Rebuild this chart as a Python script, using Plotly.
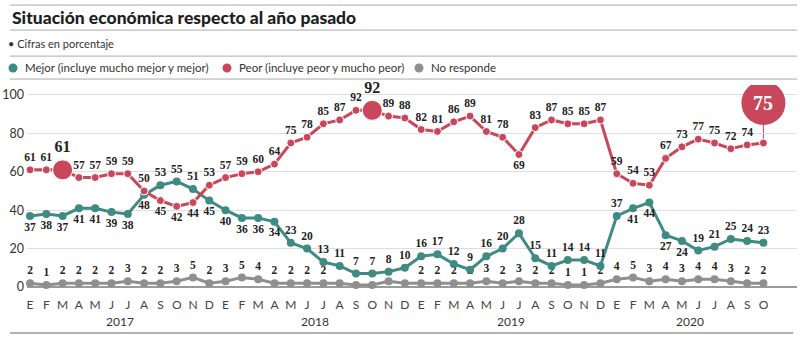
import plotly.graph_objects as go

# Monthly survey: perception of the economy compared with the previous year
month_letters = ["E", "F", "M", "A", "M", "J", "J", "A", "S", "O", "N", "D"]
years = ["2017", "2018", "2019", "2020"]
months_per_year = [12, 12, 12, 10]

mejor = [37, 38, 37, 41, 41, 39, 38, 48, 53, 55, 51, 45,
         40, 36, 36, 34, 23, 20, 13, 11, 7, 7, 8, 10,
         16, 17, 12, 9, 16, 20, 28, 15, 11, 14, 14, 11,
         37, 41, 44, 27, 24, 19, 21, 25, 24, 23]
peor = [61, 61, 61, 57, 57, 59, 59, 50, 45, 42, 44, 53,
        57, 59, 60, 64, 75, 78, 85, 87, 92, 92, 89, 88,
        82, 81, 86, 89, 81, 78, 69, 83, 87, 85, 85, 87,
        59, 54, 53, 67, 73, 77, 75, 72, 74, 75]
no_responde = [2, 1, 2, 2, 2, 2, 3, 2, 2, 3, 5, 2,
               3, 5, 4, 2, 2, 2, 2, 2, 1, 1, 3, 2,
               2, 2, 2, 2, 3, 2, 3, 2, 2, 1, 1, 2,
               4, 5, 3, 4, 3, 4, 4, 3, 2, 2]

series_names = ["Mejor (incluye mucho mejor y mejor)",
                "Peor (incluye peor y mucho peor)",
                "No responde"]

TEAL = "#3f8a83"
RED = "#c8475b"
GRAY = "#8f8f8f"
LABEL_FONT = "Liberation Serif"
SANS = "Lato"

tick_text = []
for n in months_per_year:
    tick_text += month_letters[:n]
x = list(range(len(tick_text)))
last = len(x) - 1

# highlighted points on the "Peor" series
peor_big = {2, 21}

# label placement per point
mejor_below = set(range(0, 8)) | {11, 12, 13, 14, 15, 37, 38, 39, 40}
peor_below = {8, 9, 10, 30}
gray_hidden = {19, 20, 21, 22, 23}

mejor_pos = ["bottom center" if i in mejor_below else "top center" for i in x]
peor_pos = ["bottom center" if i in peor_below else "top center" for i in x]

peor_text = [("" if i == last else str(v)) for i, v in enumerate(peor)]
peor_sizes = [16 if i in peor_big else 11.5 for i in x]
peor_msize = [20 if i in peor_big else 8 for i in x]
gray_text = [("" if i in gray_hidden else str(v)) for i, v in enumerate(no_responde)]

label_font = dict(family=LABEL_FONT, size=11.5, color="#222", weight="bold")

fig = go.Figure()

fig.add_trace(go.Scatter(
    x=x, y=no_responde, mode="lines+markers+text", name=series_names[2],
    line=dict(color=GRAY, width=3), marker=dict(color=GRAY, size=8, opacity=1),
    text=gray_text, textposition="top center", textfont=label_font,
    cliponaxis=False,
))
fig.add_trace(go.Scatter(
    x=x, y=mejor, mode="lines+markers+text", name=series_names[0],
    line=dict(color=TEAL, width=3), marker=dict(color=TEAL, size=8, opacity=1),
    text=[str(v) for v in mejor], textposition=mejor_pos, textfont=label_font,
    cliponaxis=False,
))
fig.add_trace(go.Scatter(
    x=x, y=peor, mode="lines+markers+text", name=series_names[1],
    line=dict(color=RED, width=3), marker=dict(color=RED, size=peor_msize, opacity=1),
    text=peor_text, textposition=peor_pos,
    textfont=dict(family=LABEL_FONT, size=peor_sizes, color="#222", weight="bold"),
    cliponaxis=False,
))

shapes = []
annotations = []

# callout bubble for the latest "Peor" value
shapes.append(dict(type="line", xref="x", yref="y", xsizemode="pixel", ysizemode="pixel",
                   xanchor=last, yanchor=peor[last], x0=0, x1=0, y0=0, y1=20,
                   line=dict(color=RED, width=1), layer="below"))
shapes.append(dict(type="circle", xref="x", yref="y", xsizemode="pixel", ysizemode="pixel",
                   xanchor=last, yanchor=peor[last], x0=-22, x1=22, y0=18, y1=62,
                   fillcolor=RED, line=dict(color=RED, width=0), layer="above"))
annotations.append(dict(x=last, y=peor[last], xref="x", yref="y", yshift=40,
                        text=str(peor[last]), showarrow=False,
                        font=dict(family=LABEL_FONT, size=20, color="white", weight="bold")))

# year labels under the month letters
start = 0
for yr, n in zip(years, months_per_year):
    annotations.append(dict(x=start + (n - 1) / 2, y=-0.152, xref="x", yref="paper",
                            text=yr, showarrow=False, yanchor="middle",
                            font=dict(family=SANS, size=12, color="#333")))
    start += n

# header: title, note and legend
annotations.append(dict(x=-0.022, y=1.33, xref="paper", yref="paper", xanchor="left",
                        yanchor="middle", text="Situación económica respecto al año pasado",
                        showarrow=False,
                        font=dict(family=SANS, size=17.5, color="#1e1e1e", weight=900)))
annotations.append(dict(x=-0.027, y=1.204, xref="paper", yref="paper", xanchor="left",
                        yanchor="middle", text="• Cifras en porcentaje",
                        showarrow=False, font=dict(family=SANS, size=11, color="#333")))

legend_x_px = [13, 227, 419]
for name, color, px in zip(series_names, [TEAL, RED, GRAY], legend_x_px):
    xp = (px - 27) / 770
    shapes.append(dict(type="circle", xref="paper", yref="paper", xsizemode="pixel",
                       ysizemode="pixel", xanchor=xp, yanchor=1.083,
                       x0=-4.5, x1=4.5, y0=-4.5, y1=4.5,
                       fillcolor=color, line=dict(width=0)))
    annotations.append(dict(x=(px + 10 - 27) / 770, y=1.083, xref="paper", yref="paper",
                            xanchor="left", yanchor="middle", text=name, showarrow=False,
                            font=dict(family=SANS, size=11.5, color="#333")))

# rule lines
for yp in [1.39, 1.268, 1.141, 1.029]:
    shapes.append(dict(type="line", xref="paper", yref="paper", x0=-0.022, x1=1.0,
                       y0=yp, y1=yp, line=dict(color="#aaa", width=1)))
shapes.append(dict(type="line", xref="paper", yref="paper", x0=-0.022, x1=0.995,
                   y0=-0.21, y1=-0.21, line=dict(color="#999", width=1.5)))

fig.update_layout(
    width=800, height=338,
    margin=dict(l=27, r=3, t=85, b=48),
    paper_bgcolor="white", plot_bgcolor="white",
    showlegend=False,
    shapes=shapes, annotations=annotations,
    xaxis=dict(range=[-0.184, 47.06], tickmode="array", tickvals=x, ticktext=tick_text,
               showgrid=False, zeroline=False, showline=False,
               ticks="outside", ticklen=4, tickcolor="rgba(0,0,0,0)",
               tickfont=dict(family=SANS, size=12, color="#444")),
    yaxis=dict(range=[-1.56, 105.2], tickvals=[0, 20, 40, 60, 80, 100],
               showgrid=True, gridcolor="#dedede", gridwidth=1,
               zeroline=True, zerolinecolor="#9a9a9a", zerolinewidth=1.5,
               showline=False, ticks="", ticklabelstandoff=2,
               tickfont=dict(family=SANS, size=12.5, color="#333")),
)

fig.write_html("out.html")
